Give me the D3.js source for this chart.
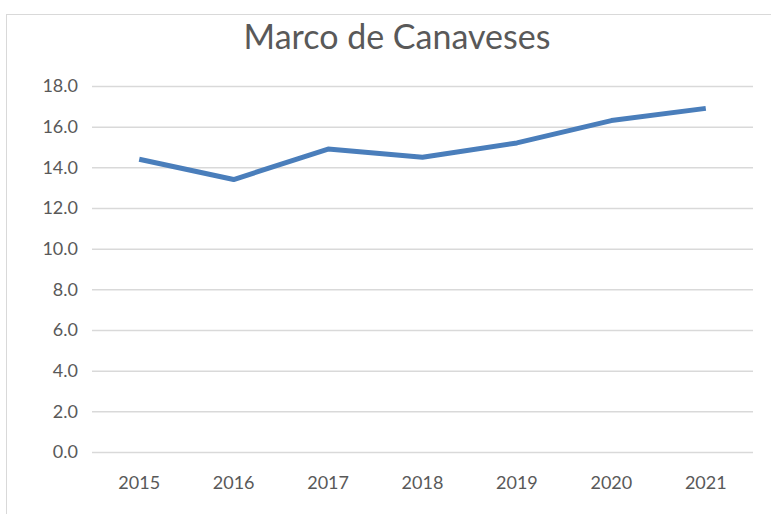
<!DOCTYPE html>
<html>
<head>
<meta charset="utf-8">
<script src="https://cdn.jsdelivr.net/npm/d3@7"></script>
<style>
  body { margin: 0; background: #fff; }
  text { font-family: Lato, "Open Sans", sans-serif; }
</style>
</head>
<body>
<div id="chart"></div>
<script>
// chart data
var years = ["2015", "2016", "2017", "2018", "2019", "2020", "2021"];
var values = [14.4, 13.4, 14.9, 14.5, 15.2, 16.3, 16.9];
var yTicks = [0, 2, 4, 6, 8, 10, 12, 14, 16, 18];

var W = 771, H = 514;
var svg = d3.select("#chart").append("svg")
    .attr("width", W).attr("height", H);

// chart area border
svg.append("rect")
    .attr("x", 6.5).attr("y", 14.5)
    .attr("width", W + 10).attr("height", H + 10)
    .attr("fill", "#fff").attr("stroke", "#d9d9d9");

var plotL = 92, plotR = 753, plotT = 86, plotB = 452;

var x = d3.scaleBand().domain(years).range([plotL, plotR]);
var y = d3.scaleLinear().domain([0, 18]).range([plotB, plotT]);

// gridlines
svg.append("g").selectAll("line")
    .data(yTicks)
    .enter().append("line")
    .attr("x1", plotL).attr("x2", plotR)
    .attr("y1", function(d) { return y(d) + 0.5; })
    .attr("y2", function(d) { return y(d) + 0.5; })
    .attr("stroke", "#d9d9d9").attr("stroke-width", 1.5);

// y labels
svg.append("g").selectAll("text")
    .data(yTicks)
    .enter().append("text")
    .attr("x", 78)
    .attr("y", function(d) { return y(d); })
    .attr("dy", "0.35em")
    .attr("text-anchor", "end")
    .attr("fill", "#595959")
    .style("font-size", "18px")
    .text(function(d) { return d.toFixed(1); });

// x labels
svg.append("g").selectAll("text")
    .data(years)
    .enter().append("text")
    .attr("x", function(d) { return x(d) + x.bandwidth() / 2; })
    .attr("y", 489)
    .attr("text-anchor", "middle")
    .attr("fill", "#595959")
    .style("font-size", "18px")
    .text(function(d) { return d; });

// the line
var line = d3.line()
    .x(function(d, i) { return x(years[i]) + x.bandwidth() / 2; })
    .y(function(d) { return y(d); });

svg.append("path")
    .datum(values)
    .attr("d", line)
    .attr("fill", "none")
    .attr("stroke", "#4a7ebb")
    .attr("stroke-width", 5)
    .attr("stroke-linejoin", "round");

// title
svg.append("text")
    .attr("x", 397).attr("y", 49)
    .attr("text-anchor", "middle")
    .attr("fill", "#595959")
    .style("font-size", "34px")
    .text("Marco de Canaveses");
</script>
</body>
</html>
